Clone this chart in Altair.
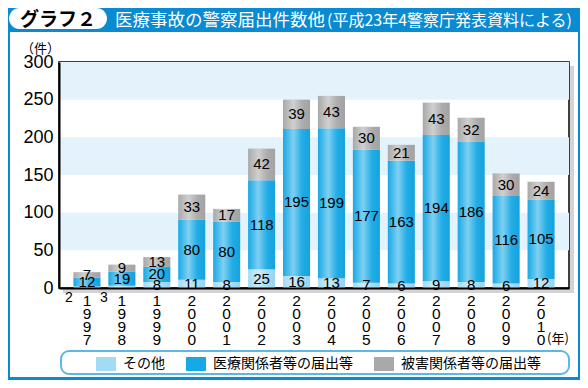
import altair as alt
import pandas as pd

years = ["1997", "1998", "1999", "2000", "2001", "2002", "2003",
         "2004", "2005", "2006", "2007", "2008", "2009", "2010"]
other = [2, 3, 8, 11, 8, 25, 16, 13, 7, 6, 9, 8, 6, 12]
medical = [12, 19, 20, 80, 80, 118, 195, 199, 177, 163, 194, 186, 116, 105]
victim = [7, 9, 13, 33, 17, 42, 39, 43, 30, 21, 43, 32, 30, 24]
series = ["その他", "医療関係者等の届出等", "被害関係者等の届出等"]
colors = ["#a3dbf5", "#17a9e6", "#a9a9a9"]
y_ticks = [0, 50, 100, 150, 200, 250, 300]
band_lo = [50, 150, 250]
band_hi = [100, 200, 300]

W, H = 510, 226
FONT = "Liberation Sans, Noto Sans CJK JP"
JFONT = "Noto Sans CJK JP"
BLUE = "#0a8ad0"

rows = []
for i, yr in enumerate(years):
    for k, (s, vals) in enumerate(zip(series, [other, medical, victim])):
        rows.append({"year": yr, "series": s, "value": vals[i], "order": k})
df = pd.DataFrame(rows)
bands_df = pd.DataFrame({"lo": band_lo, "hi": band_hi})
one = pd.DataFrame({"a": [0]})

xscale = alt.Scale(domain=years, paddingInner=0.226, paddingOuter=0.413)
yscale = alt.Scale(domain=[0, 300], nice=False)

yaxis = alt.Axis(values=y_ticks, ticks=False, labelFontSize=18, labelPadding=6,
                 labelColor="black", labelFont=FONT, domainColor="black",
                 domainWidth=2, grid=False, labelFlush=False, labelOverlap=False,
                 title="（件）", titleAngle=0, titleX=-19, titleY=-14,
                 titleFontSize=13, titleFontWeight="normal", titleFont=JFONT,
                 titleAlign="center", titleBaseline="middle", titleColor="black",
                 zindex=1)
xaxis = alt.Axis(labelExpr="split(datum.label, '')", labelAngle=0,
                 labelBaseline="top", labelLineHeight=13, labelFontSize=15.5,
                 labelPadding=5, labelColor="black", labelFont=FONT,
                 ticks=False, title=None, domainColor="black", domainWidth=2,
                 grid=False, zindex=1)

bands = alt.Chart(bands_df).mark_rect(color="#e3f2fb").encode(
    x=alt.value(0), x2=alt.value(W),
    y=alt.Y("lo:Q", scale=yscale, axis=yaxis), y2="hi:Q")

shadow_r = alt.Chart(one).mark_rect(color="#d4d4d4").encode(
    x=alt.value(W + 1), x2=alt.value(W + 5), y=alt.value(4), y2=alt.value(H + 5))
shadow_b = alt.Chart(one).mark_rect(color="#d4d4d4").encode(
    x=alt.value(4), x2=alt.value(W + 5), y=alt.value(H + 1), y2=alt.value(H + 5))

stacked = alt.Chart(df).transform_stack(
    stack="value", groupby=["year"], as_=["y0", "y1"],
    sort=[alt.SortField("order", order="ascending")])

bars = stacked.mark_bar().encode(
    x=alt.X("year:N", scale=xscale, axis=xaxis),
    y=alt.Y("y0:Q", scale=yscale, axis=yaxis),
    y2="y1:Q",
    color=alt.Color("series:N", scale=alt.Scale(domain=series, range=colors),
                    legend=alt.Legend(orient="none", legendX=37, legendY=292,
                                      direction="horizontal", title=None,
                                      symbolType="M-1,-0.7H1V0.7H-1Z",
                                      symbolSize=400, symbolStrokeWidth=0,
                                      symbolOpacity=1,
                                      labelFontSize=14, labelFont=JFONT,
                                      labelColor="black", columnPadding=21,
                                      labelOffset=7, padding=0)),
    order=alt.Order("order:Q"))

shine = alt.Chart(df).transform_aggregate(
    total="sum(value)", groupby=["year"]).mark_bar(
    color={"gradient": "linear", "x1": 0, "x2": 1, "y1": 0, "y2": 0,
           "stops": [{"offset": 0, "color": "rgba(255,255,255,0)"},
                     {"offset": 0.38, "color": "rgba(255,255,255,0.45)"},
                     {"offset": 0.7, "color": "rgba(255,255,255,0.05)"},
                     {"offset": 1, "color": "rgba(0,0,0,0.04)"}]}).encode(
    x=alt.X("year:N", scale=xscale, axis=xaxis),
    y=alt.Y("total:Q", scale=yscale, axis=yaxis))

labels = stacked.transform_calculate(mid="(datum.y0 + datum.y1) / 2").transform_filter(
    "datum.value >= 5").mark_text(fontSize=15, font=FONT, color="black").encode(
    x=alt.X("year:N", scale=xscale, axis=xaxis),
    y=alt.Y("mid:Q", scale=yscale, axis=yaxis),
    text="value:Q")

small_base = alt.Chart(df).transform_filter("datum.value < 5").transform_calculate(
    zero="0")
small = small_base.mark_text(fontSize=14, font=FONT, color="black",
                             dx=-18, dy=10).encode(
    x=alt.X("year:N", scale=xscale, axis=xaxis),
    y=alt.Y("zero:Q", scale=yscale, axis=yaxis),
    text="value:Q")

# decorations: title bar, frame, legend box
title_bar = alt.Chart(one).mark_rect(color=BLUE).encode(
    x=alt.value(-51), x2=alt.value(521), y=alt.value(-54), y2=alt.value(-30))
pill = alt.Chart(one).mark_rect(color="white", cornerRadius=11).encode(
    x=alt.value(-50), x2=alt.value(48), y=alt.value(-54), y2=alt.value(-33))
pill_text = alt.Chart(one).mark_text(text="グラフ２", font=JFONT, fontSize=19,
                                     fontWeight="bold", color="black",
                                     baseline="middle", align="center").encode(
    x=alt.value(-1), y=alt.value(-42))
title1 = alt.Chart(one).mark_text(text="医療事故の警察届出件数他", font=JFONT,
                                  fontSize=17.5, color="white", align="left",
                                  baseline="middle").encode(
    x=alt.value(56), y=alt.value(-41))
title2 = alt.Chart(one).mark_text(text="(平成23年4警察庁発表資料による)", font=JFONT,
                                  fontSize=16, color="white", align="left",
                                  baseline="middle").encode(
    x=alt.value(268), y=alt.value(-41))
left_border = alt.Chart(one).mark_rect(color=BLUE).encode(
    x=alt.value(-51), x2=alt.value(-49), y=alt.value(-31), y2=alt.value(318))
right_border = alt.Chart(one).mark_rect(color=BLUE).encode(
    x=alt.value(519), x2=alt.value(521), y=alt.value(-31), y2=alt.value(318))
bottom_border = alt.Chart(one).mark_rect(color=BLUE).encode(
    x=alt.value(-51), x2=alt.value(521), y=alt.value(315), y2=alt.value(318))
legend_box = alt.Chart(one).mark_rect(fill="white", stroke="#5bb8e6", strokeWidth=2,
                                      cornerRadius=8).encode(
    x=alt.value(2), x2=alt.value(510), y=alt.value(289), y2=alt.value(312))
nen = alt.Chart(one).mark_text(text="(年)", font=JFONT, fontSize=13, color="black",
                               align="center", baseline="middle").encode(
    x=alt.value(499), y=alt.value(277))

chart = alt.layer(
    bands, shadow_r, shadow_b, legend_box, bars, shine, labels, small,
    title_bar, pill, pill_text, title1, title2,
    left_border, right_border, bottom_border, nen
).properties(
    width=W, height=H,
    padding={"left": 51, "top": 54, "right": 11, "bottom": 92},
    autosize=alt.AutoSizeParams(type="none"),
    background="white"
).configure_view(stroke="black", strokeWidth=1.5)

chart.save("out.html", embed_options={"renderer": "svg", "actions": False})
